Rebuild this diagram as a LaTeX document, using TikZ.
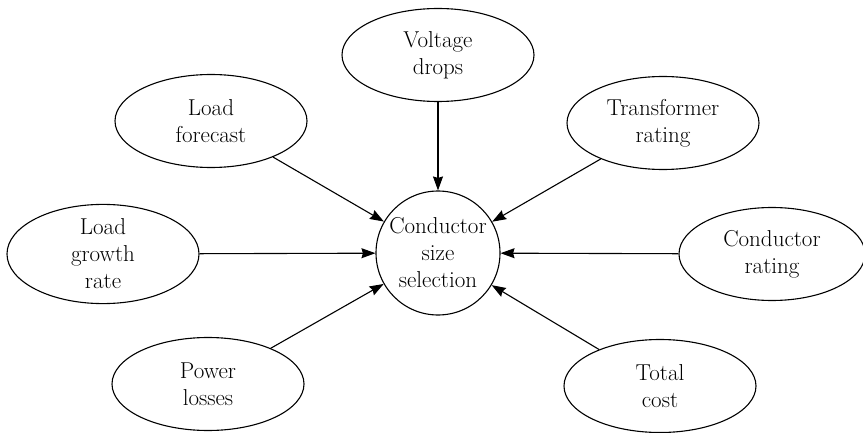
\documentclass[tikz,border=0pt]{standalone}
\usetikzlibrary{shapes.geometric,arrows.meta}
\begin{document}
\begin{tikzpicture}[x=1pt,y=-1pt,
  every node/.style={font=\fontsize{23}{27}\selectfont, align=center, inner sep=0pt, draw, line width=1.1pt},
  oval/.style={ellipse, minimum width=192pt, minimum height=93pt},
  hub/.style={circle, minimum size=124pt},
  arr/.style={line width=1.1pt, -{Stealth[length=14pt,width=10pt,inset=1.5pt]}}]
\useasboundingbox (0,0) rectangle (863,433);
\node[hub] (c) at (438,253) {Conductor\\size\\selection};
\node[oval] (vd) at (438,55) {Voltage\\drops};
\node[oval] (lf) at (211,121) {Load\\forecast};
\node[oval] (tr) at (663,123) {Transformer\\rating};
\node[oval] (lg) at (103,254) {Load\\growth\\rate};
\node[oval, minimum width=186pt] (cr) at (772,254) {Conductor\\rating};
\node[oval] (pl) at (208,384) {Power\\losses};
\node[oval] (tc) at (660,386) {Total\\cost};
\draw[arr] (vd) -- (c);
\draw[arr] (lf) -- (c);
\draw[arr] (tr) -- (c);
\draw[arr] (lg) -- (c);
\draw[arr] (cr) -- (c);
\draw[arr] (pl) -- (c);
\draw[arr] (tc) -- (c);
\end{tikzpicture}
\end{document}
